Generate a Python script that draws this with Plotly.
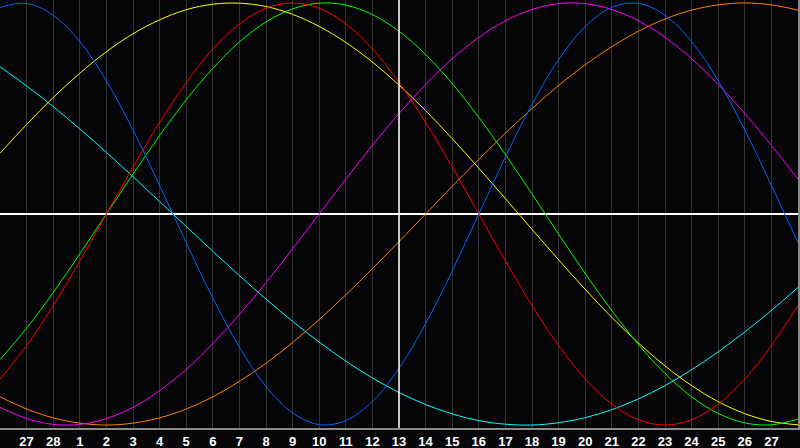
import plotly.graph_objects as go

# Day positions (0 = left edge) and labels at gridlines
days = list(range(0, 31))
tick_positions = list(range(1, 30))
tick_labels = ["27", "28"] + [str(d) for d in range(1, 28)]
today_label = "13"

# Cycle values (-1..1) read at each day
physical_23 = [0.979, 0.998, 0.942, 0.817, 0.631, 0.398, 0.136, -0.136, -0.398, -0.631,
               -0.817, -0.942, -0.998, -0.979, -0.888, -0.731, -0.520, -0.270, 0.0, 0.270,
               0.520, 0.731, 0.888, 0.979, 0.998, 0.942, 0.817, 0.631, 0.398, 0.136, -0.136]
emotional_28 = [-0.782, -0.623, -0.434, -0.223, 0.0, 0.223, 0.434, 0.623, 0.782, 0.901,
                0.975, 1.0, 0.975, 0.901, 0.782, 0.623, 0.434, 0.223, 0.0, -0.223,
                -0.434, -0.623, -0.782, -0.901, -0.975, -1.0, -0.975, -0.901, -0.782, -0.623, -0.434]
intellectual_33 = [-0.690, -0.541, -0.372, -0.189, 0.0, 0.189, 0.372, 0.541, 0.690, 0.815,
                   0.910, 0.972, 0.999, 0.990, 0.945, 0.866, 0.756, 0.618, 0.458, 0.282,
                   0.095, -0.095, -0.282, -0.458, -0.618, -0.756, -0.866, -0.945, -0.990, -0.999, -0.972]
intuitive_38 = [-0.916, -0.969, -0.997, -0.997, -0.969, -0.916, -0.837, -0.736, -0.614, -0.476,
                -0.325, -0.165, 0.0, 0.165, 0.325, 0.476, 0.614, 0.736, 0.837, 0.916,
                0.969, 0.997, 0.997, 0.969, 0.916, 0.837, 0.736, 0.614, 0.476, 0.325, 0.165]
aesthetic_43 = [0.288, 0.424, 0.552, 0.667, 0.769, 0.854, 0.920, 0.968, 0.994, 0.999,
                0.983, 0.946, 0.889, 0.813, 0.720, 0.611, 0.490, 0.357, 0.217, 0.073,
                -0.073, -0.217, -0.357, -0.490, -0.611, -0.720, -0.813, -0.889, -0.946, -0.983, -0.999]
awareness_48 = [-0.866, -0.924, -0.966, -0.991, -1.0, -0.991, -0.966, -0.924, -0.866, -0.793,
                -0.707, -0.609, -0.5, -0.383, -0.259, -0.131, 0.0, 0.131, 0.259, 0.383,
                0.5, 0.609, 0.707, 0.793, 0.866, 0.924, 0.966, 0.991, 1.0, 0.991, 0.966]
spiritual_53 = [0.697, 0.607, 0.509, 0.403, 0.292, 0.177, 0.059, -0.059, -0.177, -0.292,
                -0.403, -0.509, -0.607, -0.697, -0.777, -0.846, -0.903, -0.947, -0.979, -0.996,
                -1.0, -0.989, -0.965, -0.927, -0.876, -0.813, -0.738, -0.653, -0.559, -0.457, -0.348]

series = [
    ("Spiritual", spiritual_53, "#00ffff"),
    ("Awareness", awareness_48, "#ff8000"),
    ("Aesthetic", aesthetic_43, "#ffff00"),
    ("Intuitive", intuitive_38, "#ff00ff"),
    ("Intellectual", intellectual_33, "#00ff00"),
    ("Emotional", emotional_28, "#ff0000"),
    ("Physical", physical_23, "#0066ff"),
]

fig = go.Figure()
for name, vals, col in series:
    fig.add_trace(go.Scatter(x=days, y=vals, mode="lines", name=name,
                             line=dict(color=col, width=1, shape="spline"),
                             hoverinfo="skip"))

today_x = tick_positions[tick_labels.index(today_label)]
fig.add_shape(type="line", xref="x", yref="paper", x0=today_x, x1=today_x, y0=0, y1=1,
              line=dict(color="#ffffff", width=1.5), layer="above")

fig.update_layout(
    width=800, height=448,
    margin=dict(l=0, r=0, t=0, b=20),
    paper_bgcolor="#050508",
    plot_bgcolor="#050508",
    showlegend=False,
    xaxis=dict(range=[0, 30], tickvals=tick_positions, ticktext=tick_labels,
               showgrid=True, gridcolor="#333333", gridwidth=1,
               zeroline=False, showline=True, linecolor="#8a8a8a", linewidth=2, mirror=True,
               ticks="", automargin=False,
               tickfont=dict(family="Liberation Sans", size=13, color="#ffffff", weight="bold")),
    yaxis=dict(range=[-1.014, 1.014], showgrid=False, showticklabels=False,
               zeroline=True, zerolinecolor="#ffffff", zerolinewidth=1.5,
               showline=True, linecolor="#8a8a8a", linewidth=2, mirror=True),
)

fig.write_html("out.html", config={"displayModeBar": False},
               post_script="document.body.style.margin='0';document.body.style.overflow='hidden';document.body.style.background='#050508';")
